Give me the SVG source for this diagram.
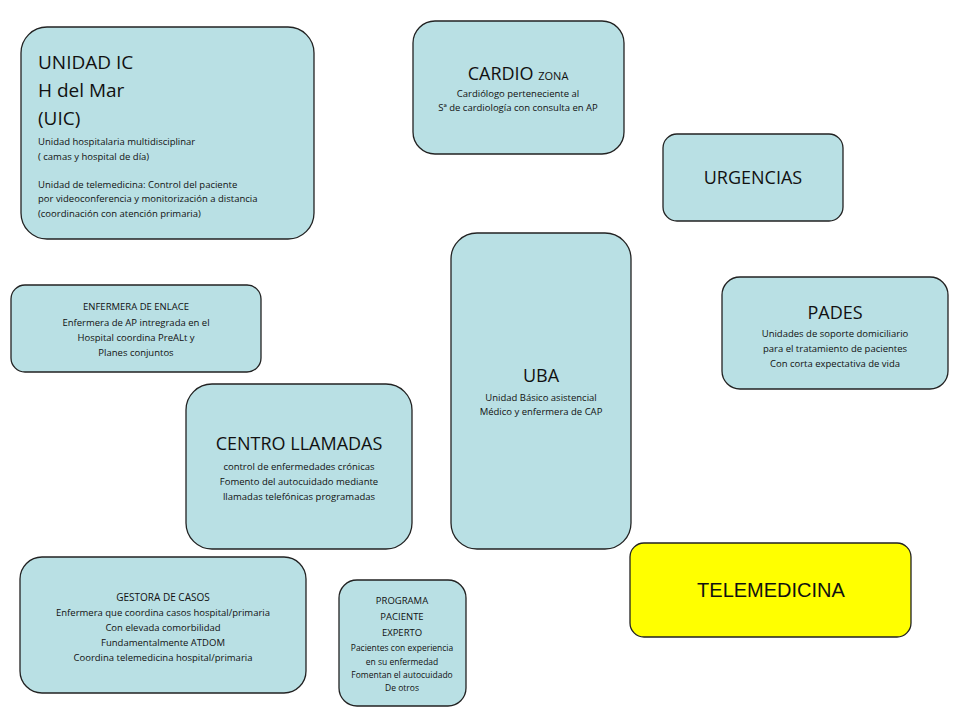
<svg xmlns="http://www.w3.org/2000/svg" width="960" height="720" viewBox="0 0 960 720">
<style>
.b{fill:#b9e0e4;stroke:#222;stroke-width:1.3}
text{font-family:"Open Sans","DejaVu Sans",sans-serif;fill:#111}
.s{font-size:9.5px}
.m{font-size:10px}
.c{text-anchor:middle}
</style>
<rect width="960" height="720" fill="#fff"/>
<g id="uic"><rect class="b" x="21" y="27" width="293" height="212" rx="26"/>
<text x="38" y="69" font-size="19">UNIDAD IC</text>
<text x="38" y="97" font-size="19">H del Mar</text>
<text x="38" y="125" font-size="19">(UIC)</text>
<text x="38" y="145" class="s">Unidad hospitalaria multidisciplinar</text>
<text x="38" y="160" class="s"> ( camas y hospital de día)</text>
<text x="38" y="188" class="s">Unidad de telemedicina: Control del paciente</text>
<text x="38" y="202" class="s">por videoconferencia y monitorización a distancia</text>
<text x="38" y="217" class="s">(coordinación con atención primaria)</text></g>
<g id="cardio"><rect class="b" x="413" y="21" width="211" height="133" rx="22"/>
<text x="518" y="80" class="c" font-size="18">CARDIO <tspan font-size="11">ZONA</tspan></text>
<text x="518" y="97" class="c s">Cardiólogo perteneciente al</text>
<text x="518" y="111" class="c s">Sª de cardiología con consulta en AP</text></g>
<g id="urg"><rect class="b" x="663" y="134" width="180" height="87" rx="14"/>
<text x="753" y="184" class="c" font-size="18">URGENCIAS</text></g>
<g id="enf"><rect class="b" x="11" y="285" width="250" height="87" rx="14"/>
<text x="136" y="310" class="c s">ENFERMERA  DE ENLACE</text>
<text x="136" y="326" class="c s">Enfermera de AP intregrada en el</text>
<text x="136" y="341" class="c s">Hospital coordina PreALt y</text>
<text x="136" y="356" class="c s">Planes conjuntos</text></g>
<g id="uba"><rect class="b" x="451" y="233" width="180" height="316" rx="26"/>
<text x="541" y="382" class="c" font-size="18">UBA</text>
<text x="541" y="401" class="c s">Unidad Básico asistencial</text>
<text x="541" y="415" class="c s">Médico y enfermera de CAP</text></g>
<g id="pades"><rect class="b" x="722" y="277" width="226" height="112" rx="18"/>
<text x="835" y="319" class="c" font-size="18">PADES</text>
<text x="835" y="337" class="c s">Unidades de soporte domiciliario</text>
<text x="835" y="352" class="c s">para el tratamiento de pacientes</text>
<text x="835" y="367" class="c s">Con corta expectativa de vida</text></g>
<g id="centro"><rect class="b" x="186" y="384" width="226" height="165" rx="26"/>
<text x="299" y="450" class="c" font-size="18">CENTRO LLAMADAS</text>
<text x="299" y="470" class="c s">control de enfermedades crónicas</text>
<text x="299" y="485" class="c s">Fomento del autocuidado mediante</text>
<text x="299" y="500" class="c s">llamadas telefónicas programadas</text></g>
<g id="tele"><rect x="630" y="543" width="281" height="94" rx="14" fill="#ffff00" stroke="#222" stroke-width="1.3"/>
<text x="771" y="597" class="c" font-size="20" style="font-family:'Liberation Sans',sans-serif">TELEMEDICINA</text></g>
<g id="gestora"><rect class="b" x="20" y="557" width="286" height="136" rx="22"/>
<text x="163" y="601" class="c m">GESTORA DE CASOS</text>
<text x="163" y="616" class="c s">Enfermera que coordina  casos hospital/primaria</text>
<text x="163" y="631" class="c s">Con elevada comorbilidad</text>
<text x="163" y="646" class="c s">Fundamentalmente ATDOM</text>
<text x="163" y="661" class="c s">Coordina telemedicina  hospital/primaria</text></g>
<g id="prog"><rect class="b" x="339" y="580" width="127" height="126" rx="18"/>
<text x="402" y="604" class="c s">PROGRAMA</text>
<text x="402" y="620" class="c s">PACIENTE</text>
<text x="402" y="636" class="c s">EXPERTO</text>
<text x="402" y="651" class="c" font-size="8.5">Pacientes con experiencia</text>
<text x="402" y="665" class="c" font-size="8.5">en su enfermedad</text>
<text x="402" y="678" class="c" font-size="8.5">Fomentan el autocuidado</text>
<text x="402" y="691" class="c" font-size="8.5">De otros</text></g>
<g id="connectors"/>
</svg>
